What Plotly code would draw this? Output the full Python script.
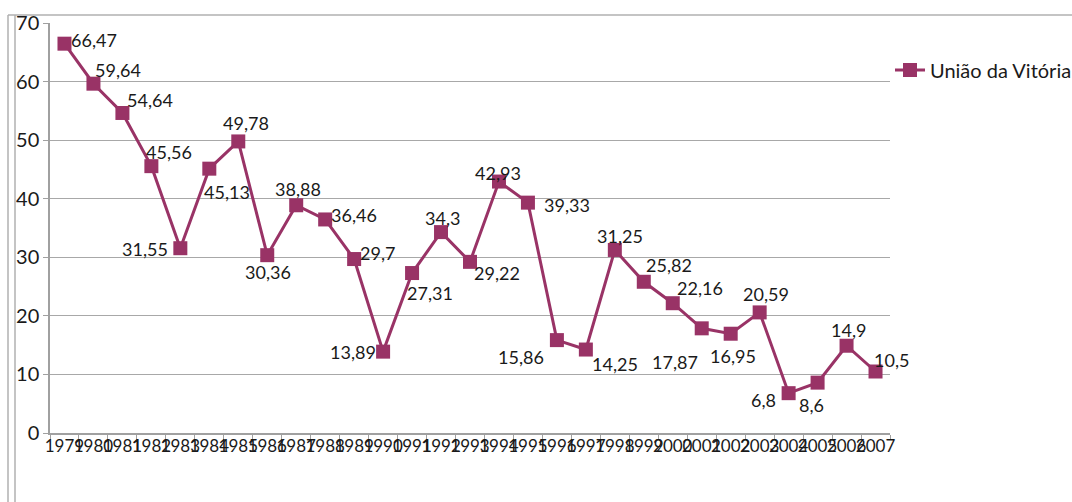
import plotly.graph_objects as go

years = [str(y) for y in range(1979, 2008)]
values = [66.47, 59.64, 54.64, 45.56, 31.55, 45.13, 49.78, 30.36, 38.88, 36.46,
          29.7, 13.89, 27.31, 34.3, 29.22, 42.93, 39.33, 15.86, 14.25, 31.25,
          25.82, 22.16, 17.87, 16.95, 20.59, 6.8, 8.6, 14.9, 10.5]
series_name = "União da Vitória"
y_ticks = [0, 10, 20, 30, 40, 50, 60, 70]

# label offsets (pixels, centre of text relative to marker)
label_dx = [30, 25, 28, 18, -35, 18, 8, 1, 2, 29, 23, -30, 18, 1, 27, -1, 39, -36,
            29, 5, 25, 27, -27, 2, 6, -25, -6, 2, 16]
label_dy = [4, 14, 13, 14, -1, -23, 18, -17, 16, 4, 6, 0, -20, 14, -11, 9, -2, -17,
            -14, 14, 17, 15, -34, -22, 18, -7, -22, 16, 12]

def fmt(v):
    return ("%g" % v).replace(".", ",")

color = "#993366"
font_family = "Lato, sans-serif"
txt = "#1a1a1a"

fig = go.Figure()
fig.add_trace(go.Scatter(
    x=years, y=values, mode="lines+markers", name=series_name,
    line=dict(color=color, width=3),
    marker=dict(symbol="square", size=14, color=color),
))

# category axis: annotation x uses category serial number
for i, (v, dx, dy) in enumerate(zip(values, label_dx, label_dy)):
    fig.add_annotation(x=i, xref="x", y=v, yref="y", text=fmt(v), showarrow=False,
                       xshift=dx, yshift=dy, xanchor="center", yanchor="middle",
                       font=dict(size=18, color=txt, family=font_family))

W, H = 1072, 502
L, R, T, B = 50, 182, 23, 69
pw, ph = W - L - R, H - T - B

def px_x(p):
    return (p - L) / pw

def px_y(p):
    return (H - B - p) / ph

line_style = dict(color="#b0b0b0", width=1.5)
fig.add_shape(type="line", xref="paper", yref="paper", x0=px_x(8), x1=px_x(8),
              y0=px_y(15), y1=px_y(H), line=line_style)
fig.add_shape(type="line", xref="paper", yref="paper", x0=px_x(15), x1=px_x(15),
              y0=px_y(15), y1=px_y(H), line=line_style)
fig.add_shape(type="line", xref="paper", yref="paper", x0=px_x(8), x1=px_x(W),
              y0=px_y(15), y1=px_y(15), line=line_style)

fig.update_layout(
    width=W, height=H,
    margin=dict(l=L, r=R, t=T, b=B, autoexpand=False),
    paper_bgcolor="white", plot_bgcolor="white",
    font=dict(family=font_family, color=txt),
    showlegend=True,
    legend=dict(x=1.0, xanchor="left", y=px_y(70), yanchor="middle",
                font=dict(size=20, color=txt, family=font_family),
                bgcolor="rgba(0,0,0,0)"),
    xaxis=dict(type="category", tickangle=0, tickson="boundaries",
               ticks="outside", ticklen=5, tickcolor="#a0a0a0",
               showline=True, linecolor="#a0a0a0", linewidth=1.5,
               showgrid=False, tickfont=dict(size=17, color=txt),
               ticklabelstandoff=-3,
               range=[-0.5, len(years) - 0.5], automargin=False),
    yaxis=dict(range=[0, 70], tickvals=y_ticks, ticks="outside", ticklen=5,
               tickcolor="#a0a0a0", showline=True, linecolor="#a0a0a0", linewidth=1.5,
               showgrid=True, gridcolor="#a8a8a8", gridwidth=1.2,
               zeroline=False, tickfont=dict(size=20, color=txt), automargin=False),
)

fig.write_html("out.html")
